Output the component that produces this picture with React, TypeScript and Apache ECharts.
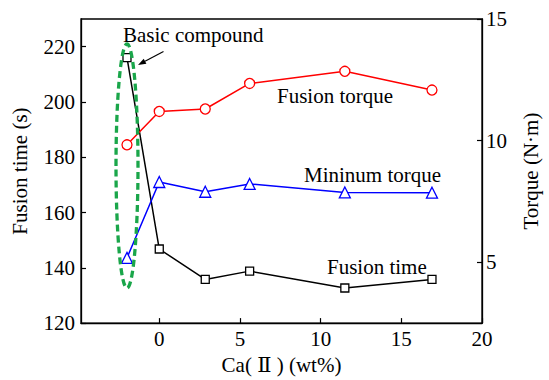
import React, { useEffect, useRef } from "react";
import * as echarts from "echarts";

const xValues = [-2, 0, 2.85, 5.6, 11.5, 16.9];
const fusionTime = [216, 146.8, 135.8, 138.8, 132.7, 135.8];
const fusionTorque = [9.83, 11.2, 11.3, 12.35, 12.85, 12.08];
const minTorque = [5.18, 8.3, 7.9, 8.22, 7.87, 7.86];

const xTicks = [0, 5, 10, 15, 20];
const leftTicks = [120, 140, 160, 180, 200, 220];
const rightTicks = [5, 10, 15];

const FONT = '"Liberation Serif", "DejaVu Serif", serif';
const FS = 21;

const pairs = (ys: number[]) => xValues.map((x, i) => [x, ys[i]]);

export default function App() {
  const ref = useRef<HTMLDivElement>(null);
  useEffect(() => {
    if (!ref.current) return;
    const chart = echarts.init(ref.current, null, { renderer: "svg" });
    const axisCommon = {
      axisLine: { show: true, onZero: false, lineStyle: { color: "#000", width: 1.3 } },
      splitLine: { show: false },
      nameTextStyle: { fontFamily: FONT, fontSize: FS, color: "#000" },
    };
    const tickStyle = { color: "#000", width: 1.2 };
    const labelStyle = { fontFamily: FONT, fontSize: FS, color: "#000" };
    chart.setOption({
      animation: false,
      backgroundColor: "#fff",
      textStyle: { fontFamily: FONT },
      grid: {
        left: 81,
        right: 55,
        top: 19,
        bottom: 54,
        show: true,
        borderColor: "#000",
        borderWidth: 1.3,
        backgroundColor: "transparent",
      },
      xAxis: {
        type: "value",
        min: -4.85,
        max: 20,
        ...axisCommon,
        axisTick: { show: true, inside: true, length: 5, customValues: xTicks, lineStyle: tickStyle },
        axisLabel: { customValues: xTicks, ...labelStyle, margin: 5 },
        name: "Ca( Ⅱ ) (wt%)",
        nameLocation: "middle",
        nameGap: 28,
      },
      yAxis: [
        {
          type: "value",
          min: 120,
          max: 230,
          position: "left",
          ...axisCommon,
          axisTick: { show: true, inside: true, length: 5, customValues: leftTicks, lineStyle: tickStyle },
          axisLabel: { customValues: leftTicks, ...labelStyle, margin: 6 },
          name: "Fusion time (s)",
          nameLocation: "middle",
          nameGap: 51,
        },
        {
          type: "value",
          min: 2.5,
          max: 15,
          position: "right",
          ...axisCommon,
          axisTick: { show: true, inside: true, length: 5, customValues: rightTicks, lineStyle: tickStyle },
          axisLabel: { customValues: rightTicks, ...labelStyle, margin: 4 },
          name: "Torque (N·m)",
          nameLocation: "middle",
          nameGap: 38,
        },
      ],
      series: [
        {
          name: "Fusion time",
          type: "line",
          yAxisIndex: 0,
          data: pairs(fusionTime),
          symbol: "rect",
          symbolSize: 8,
          itemStyle: { color: "#fff", borderColor: "#000", borderWidth: 1.3 },
          lineStyle: { color: "#000", width: 1.5 },
        },
        {
          name: "Fusion torque",
          type: "line",
          yAxisIndex: 1,
          data: pairs(fusionTorque),
          symbol: "circle",
          symbolSize: 10,
          itemStyle: { color: "#fff", borderColor: "#ff0000", borderWidth: 1.3 },
          lineStyle: { color: "#ff0000", width: 1.5 },
        },
        {
          name: "Mininum torque",
          type: "line",
          yAxisIndex: 1,
          data: pairs(minTorque),
          symbol: "triangle",
          symbolSize: 11,
          itemStyle: { color: "#fff", borderColor: "#0000ff", borderWidth: 1.3 },
          lineStyle: { color: "#0000ff", width: 1.5 },
        },
      ],
      graphic: [
        {
          type: "ellipse",
          z: 100,
          shape: { cx: 127, cy: 166, rx: 11, ry: 122 },
          style: { fill: "none", stroke: "#1aa64a", lineWidth: 3.3, lineDash: [7, 4] },
        },
        {
          type: "line",
          z: 100,
          shape: { x1: 163.5, y1: 51.5, x2: 145, y2: 61.3 },
          style: { stroke: "#000", lineWidth: 1.2 },
        },
        {
          type: "polygon",
          z: 100,
          shape: { points: [[138, 65], [146.4, 63.7], [143.7, 58.8]] },
          style: { fill: "#000" },
        },
        {
          type: "text",
          z: 100,
          x: 123,
          y: 35,
          style: { text: "Basic compound", font: `${FS}px ${FONT}`, fill: "#000", verticalAlign: "middle" },
        },
        {
          type: "text",
          z: 100,
          x: 277,
          y: 96,
          style: { text: "Fusion torque", font: `${FS}px ${FONT}`, fill: "#000", verticalAlign: "middle" },
        },
        {
          type: "text",
          z: 100,
          x: 304,
          y: 175,
          style: { text: "Mininum torque", font: `${FS}px ${FONT}`, fill: "#000", verticalAlign: "middle" },
        },
        {
          type: "text",
          z: 100,
          x: 327,
          y: 267,
          style: { text: "Fusion time", font: `${FS}px ${FONT}`, fill: "#000", verticalAlign: "middle" },
        },
      ],
    });
    return () => chart.dispose();
  }, []);
  return (
    <div
      ref={ref}
      style={{ position: "fixed", left: 0, top: 0, width: 549, height: 380, background: "#fff" }}
    />
  );
}
